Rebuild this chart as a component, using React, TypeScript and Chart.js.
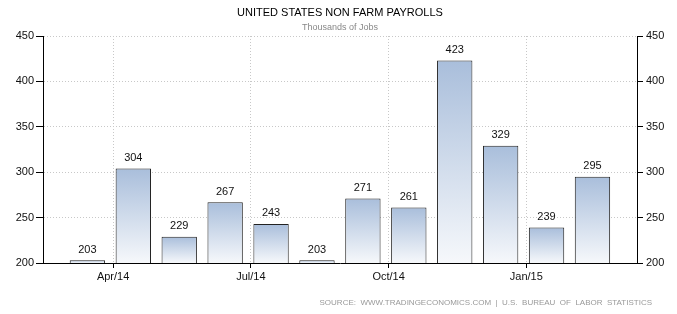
import React, { useEffect, useRef } from 'react';
import { Chart, registerables } from 'chart.js';

Chart.register(...registerables);

const months = ['Mar/14', 'Apr/14', 'May/14', 'Jun/14', 'Jul/14', 'Aug/14', 'Sep/14', 'Oct/14', 'Nov/14', 'Dec/14', 'Jan/15', 'Feb/15'];
const payrolls = [203, 304, 229, 267, 243, 203, 271, 261, 423, 329, 239, 295];
const tickLabels = ['Apr/14', 'Jul/14', 'Oct/14', 'Jan/15'];
const yMin = 200;
const yMax = 450;
const yStep = 50;
const titleText = 'UNITED STATES NON FARM PAYROLLS';
const subtitleText = 'Thousands of Jobs';
const sourceText = 'SOURCE:  WWW.TRADINGECONOMICS.COM  |  U.S.  BUREAU  OF  LABOR  STATISTICS';

// month-start offset relative to each bar centre (bars sit mid-month)
const MONTH_START = 0.44;
const tickPositions = tickLabels.map((l) => months.indexOf(l) - MONTH_START);

const FONT = 'Liberation Sans';

const decorPlugin = {
  id: 'decor',
  afterDatasetsDraw(chart: any) {
    const ctx = chart.ctx;
    const meta = chart.getDatasetMeta(0);
    ctx.save();
    ctx.font = `11px "${FONT}"`;
    ctx.fillStyle = '#111';
    ctx.textAlign = 'center';
    ctx.textBaseline = 'bottom';
    meta.data.forEach((bar: any, i: number) => {
      ctx.fillText(String(payrolls[i]), bar.x, bar.y - 5);
    });
    ctx.restore();
  },
  afterDraw(chart: any) {
    const ctx = chart.ctx;
    const area = chart.chartArea;
    const cx = (area.left + area.right) / 2;
    ctx.save();
    ctx.textAlign = 'center';
    ctx.textBaseline = 'middle';
    ctx.fillStyle = '#000';
    ctx.font = `11px "${FONT}"`;
    ctx.fillText(titleText, cx, 13);
    ctx.fillStyle = '#888';
    ctx.font = `9px "${FONT}"`;
    ctx.fillText(subtitleText, cx, 28);
    ctx.textAlign = 'right';
    ctx.fillStyle = '#999';
    ctx.font = `8px "${FONT}"`;
    ctx.fillText(sourceText, 652, 303);
    ctx.restore();
  },
};

export default function App() {
  const ref = useRef<HTMLCanvasElement | null>(null);

  useEffect(() => {
    document.body.style.margin = '0';
    const canvas = ref.current;
    if (!canvas) return;
    const chart = new Chart(canvas, {
      type: 'bar',
      data: {
        datasets: [
          {
            data: payrolls.map((v, i) => ({ x: i, y: v })),
            barPercentage: 0.77,
            categoryPercentage: 1,
            borderColor: '#222',
            borderWidth: 1,
            backgroundColor: (c: any) => {
              const ch = c.chart;
              const area = ch.chartArea;
              if (!area || c.type !== 'data' || !ch.scales.y) return '#c4d2e6';
              const top = ch.scales.y.getPixelForValue(c.raw.y);
              const g = ch.ctx.createLinearGradient(0, top, 0, area.bottom);
              g.addColorStop(0, '#a9bedb');
              g.addColorStop(1, '#f6f8fb');
              return g;
            },
          } as any,
        ],
      },
      options: {
        animation: false,
        responsive: false,
        devicePixelRatio: 1,
        layout: { padding: { top: 36, left: 0, right: 0, bottom: 0 } },
        plugins: { legend: { display: false }, tooltip: { enabled: false }, title: { display: false } },
        scales: {
          x: {
            type: 'linear',
            offset: false,
            min: -0.967,
            max: 11.97,
            afterBuildTicks: (scale: any) => {
              scale.ticks = tickPositions.map((v) => ({ value: v }));
            },
            afterFit: (scale: any) => {
              scale.height = 51;
            },
            ticks: {
              autoSkip: false,
              maxRotation: 0,
              color: '#111',
              font: { family: FONT, size: 11 },
              padding: 2,
              callback: (value: any) => {
                const idx = tickPositions.findIndex((p) => Math.abs(p - value) < 1e-6);
                return idx >= 0 ? tickLabels[idx] : '';
              },
            },
            grid: { offset: false, color: '#c8c8c8', tickColor: '#000', tickLength: 5, lineWidth: 1 },
            border: { display: true, color: '#000', width: 1, dash: [1, 2] },
          },
          y: {
            type: 'linear',
            position: 'left',
            min: yMin,
            max: yMax,
            afterFit: (scale: any) => {
              scale.width = 43;
            },
            ticks: { stepSize: yStep, color: '#111', font: { family: FONT, size: 11 }, padding: 2 },
            grid: { color: '#c8c8c8', tickColor: '#000', tickLength: 7 },
            border: { display: true, color: '#000', width: 1, dash: [1, 2] },
          },
          y2: {
            type: 'linear',
            position: 'right',
            min: yMin,
            max: yMax,
            afterFit: (scale: any) => {
              scale.width = 40;
            },
            ticks: { stepSize: yStep, color: '#111', font: { family: FONT, size: 11 }, padding: 3 },
            grid: { drawOnChartArea: false, tickColor: '#000', tickLength: 6 },
            border: { display: true, color: '#000', width: 1 },
          },
        },
      } as any,
      plugins: [decorPlugin],
    });
    return () => chart.destroy();
  }, []);

  return (
    <div style={{ position: 'absolute', left: 0, top: 0, width: 677, height: 314 }}>
      <canvas ref={ref} width={677} height={314} style={{ display: 'block' }} />
    </div>
  );
}
